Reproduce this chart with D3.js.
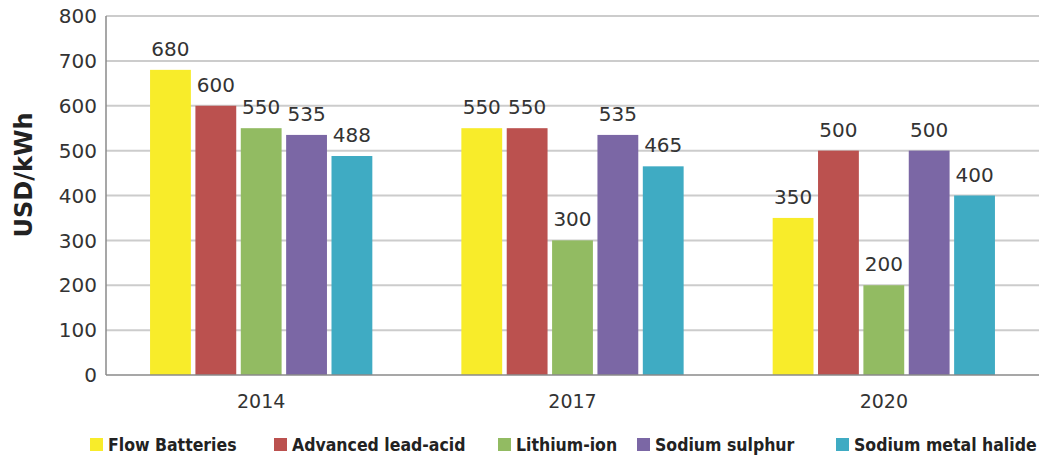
<!DOCTYPE html>
<html>
<head>
<meta charset="utf-8">
<script src="https://cdnjs.cloudflare.com/ajax/libs/d3/7.8.5/d3.min.js"></script>
<style>
	body { margin: 0; background: #fff; }
	svg { display: block; }
</style>
</head>
<body>
<div id="chart"></div>
<script>
var years = ["2014", "2017", "2020"];
var series = ["Flow Batteries", "Advanced lead-acid", "Lithium-ion", "Sodium sulphur", "Sodium metal halide"];
var colors = ["#f8ec2a", "#bb514f", "#92bb62", "#7b67a5", "#3fabc3"];
// values per series, in year order
var flowBatteries = [680, 550, 350];
var advancedLeadAcid = [600, 550, 500];
var lithiumIon = [550, 300, 200];
var sodiumSulphur = [535, 535, 500];
var sodiumMetalHalide = [488, 465, 400];
var yTicks = [0, 100, 200, 300, 400, 500, 600, 700, 800];

var values = [flowBatteries, advancedLeadAcid, lithiumIon, sodiumSulphur, sodiumMetalHalide];

var width = 1042, height = 459;
var margin = {top: 16, right: 3, bottom: 84, left: 106};

var svg = d3.select("#chart").append("svg")
	.attr("width", width)
	.attr("height", height);

var x0 = d3.scaleBand()
	.domain(years)
	.range([margin.left, width - margin.right])
	.paddingInner(0.286)
	.paddingOuter(0.1415);

var x1 = d3.scaleBand()
	.domain(series)
	.range([0, x0.bandwidth()])
	.paddingInner(0.1);

var y = d3.scaleLinear()
	.domain([0, 800])
	.range([height - margin.bottom, margin.top]);

// gridlines
svg.append("g")
	.selectAll("line")
	.data(yTicks.slice(1))
	.enter().append("line")
	.attr("x1", margin.left)
	.attr("x2", width - margin.right)
	.attr("y1", function(d) { return y(d); })
	.attr("y2", function(d) { return y(d); })
	.attr("stroke", "#cccccc")
	.attr("stroke-width", 2);

// y tick labels
svg.append("g")
	.selectAll("text")
	.data(yTicks)
	.enter().append("text")
	.attr("x", margin.left - 9)
	.attr("y", function(d) { return y(d); })
	.attr("dy", "0.36em")
	.attr("text-anchor", "end")
	.attr("font-family", "DejaVu Sans")
	.attr("font-size", 20)
	.attr("fill", "#333")
	.text(function(d) { return d; });

// bars
var groups = svg.append("g")
	.selectAll("g")
	.data(years)
	.enter().append("g")
	.attr("transform", function(d) { return "translate(" + x0(d) + ",0)"; });

var cells = groups.selectAll("g")
	.data(function(d, i) {
		return series.map(function(s, j) { return {s: s, j: j, v: values[j][i]}; });
	})
	.enter().append("g");

cells.append("rect")
	.attr("x", function(d) { return x1(d.s); })
	.attr("width", x1.bandwidth())
	.attr("y", function(d) { return y(d.v); })
	.attr("height", function(d) { return y(0) - y(d.v); })
	.attr("fill", function(d) { return colors[d.j]; });

cells.append("text")
	.attr("x", function(d) { return x1(d.s) + x1.bandwidth() / 2; })
	.attr("y", function(d) { return y(d.v) - 14; })
	.attr("text-anchor", "middle")
	.attr("font-family", "DejaVu Sans")
	.attr("font-size", 20)
	.attr("fill", "#333")
	.text(function(d) { return d.v; });

// axis lines
svg.append("line")
	.attr("x1", margin.left).attr("x2", margin.left)
	.attr("y1", margin.top).attr("y2", y(0))
	.attr("stroke", "#8a8a8a").attr("stroke-width", 1.5);
svg.append("line")
	.attr("x1", margin.left).attr("x2", width - margin.right)
	.attr("y1", y(0)).attr("y2", y(0))
	.attr("stroke", "#8a8a8a").attr("stroke-width", 1.5);

// x labels
svg.append("g")
	.selectAll("text")
	.data(years)
	.enter().append("text")
	.attr("x", function(d) { return x0(d) + x0.bandwidth() / 2; })
	.attr("y", 408)
	.attr("text-anchor", "middle")
	.attr("font-family", "DejaVu Sans")
	.attr("font-size", 19)
	.attr("fill", "#333")
	.text(function(d) { return d; });

// y title
svg.append("text")
	.attr("transform", "translate(32,175) rotate(-90)")
	.attr("text-anchor", "middle")
	.attr("font-family", "DejaVu Sans")
	.attr("font-weight", "bold")
	.attr("font-size", 24)
	.attr("fill", "#222")
	.text("USD/kWh");

// legend
var legendX = [90, 274, 498, 637, 836];
var legend = svg.append("g")
	.selectAll("g")
	.data(series)
	.enter().append("g")
	.attr("transform", function(d, i) { return "translate(" + legendX[i] + ",438)"; });

legend.append("rect")
	.attr("width", 13)
	.attr("height", 13)
	.attr("fill", function(d, i) { return colors[i]; });

legend.append("text")
	.attr("x", 18)
	.attr("y", 13)
	.attr("font-family", "DejaVu Sans Condensed, DejaVu Sans")
	.attr("font-stretch", "condensed")
	.attr("font-weight", "bold")
	.attr("font-size", 17.5)
	.attr("fill", "#222")
	.text(function(d) { return d; });
</script>
</body>
</html>
